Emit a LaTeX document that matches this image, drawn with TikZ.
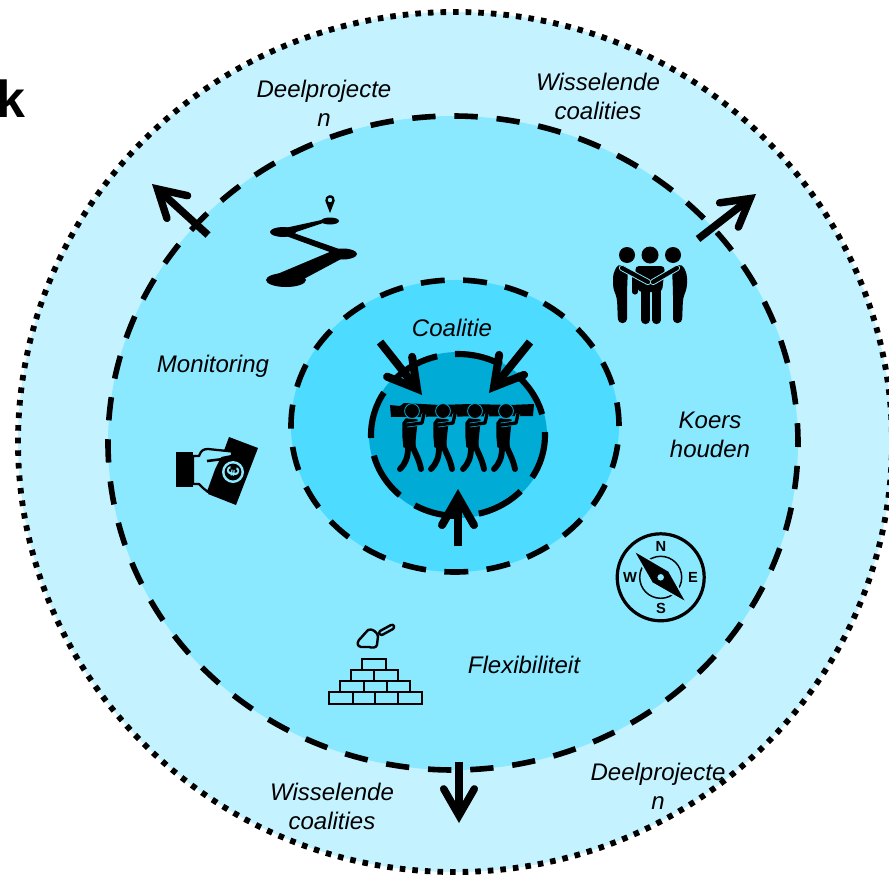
\documentclass[tikz,border=0pt]{standalone}
\usepackage{fontspec}
\setmainfont{Liberation Sans}
\usetikzlibrary{arrows.meta}
\definecolor{ringA}{HTML}{C4F3FF}
\definecolor{ringB}{HTML}{8AE8FF}
\definecolor{ringC}{HTML}{4DDBFF}
\definecolor{ringD}{HTML}{00ABD6}
\tikzset{
  tekst/.style={font=\itshape\fontsize{18}{21.75}\selectfont, align=center, inner sep=0pt},
  streep/.style={line width=4.2pt},
  pijl/.style={line width=5.6pt, -{Straight Barb[length=20pt, width=23pt, line cap=round, line join=miter]}},
  kernpijl/.style={line width=6pt, -{Straight Barb[length=21pt, width=24pt, line cap=round, line join=miter]}},
  icoon/.style={line width=1.8pt, line cap=round, line join=round},
  werker/.pic={
    \filldraw[line width=1pt, line join=round] (-9,12) -- (-6,8) -- (5,9) -- (3,29) -- (3,36) -- (-8,36) -- (-9,25) -- cycle;
    \draw[line width=4.4pt, line cap=round] (0,34) .. controls (3,42) and (7,48) .. (9,58);
    \draw[line width=4.4pt, line cap=round] (-4,36) .. controls (-4,46) and (-6,52) .. (-12,58);
    \draw[ringD, line width=3.6pt, line join=round] (-5,14) -- (10,12) -- (12,3);
    \draw[line width=2.5pt, line join=round] (-5,14) -- (10,12) -- (12,3);
    \filldraw[draw=ringD, line width=0.6pt] (0,0) circle (7.4);
  }
}
\begin{document}
\begin{tikzpicture}[x=0.75pt, y=-0.75pt]
\useasboundingbox (0,0) rectangle (889,878);
\clip (0,0) rectangle (889,878);

\coordinate (M1) at (455,442);
\coordinate (M2) at (453,443);
\coordinate (M3) at (455,426);
\coordinate (M4) at (458,435);

\fill[ringA] (M1) ellipse (437 and 430);
\fill[ringB] (M2) ellipse (345 and 327);
\fill[ringC] (M3) ellipse (164 and 146);
\fill[ringD] (M4) ellipse (89 and 83);

\draw[line width=4.4pt, dash pattern=on 4.2pt off 5.25pt] (M1) ellipse (437 and 430);
\draw[streep, dash pattern=on 17.5pt off 14.17pt, dash phase=14.5pt] (M2) ellipse (345 and 327);
\draw[streep, dash pattern=on 18pt off 13.8pt, dash phase=18pt] (M3) ellipse (164 and 146);
\draw[line width=4.6pt, dash pattern=on 36pt off 13.5pt, dash phase=2.25pt] (M4) ellipse (87 and 81);

% labels
\node[tekst] (deel1) at (324,103) {Deelprojecte\\n};
\node[tekst] (wissel1) at (598,96) {Wisselende\\coalities};
\node[tekst] (coalitie) at (452,328) {Coalitie};
\node[tekst] (monitoring) at (213,366) {Monitoring};
\node[tekst] (koers) at (710,435) {Koers\\houden};
\node[tekst] (flex) at (524,665) {Flexibiliteit};
\node[tekst] (wissel2) at (332,806) {Wisselende\\coalities};
\node[tekst] (deel2) at (658,786) {Deelprojecte\\n};
\node[font=\bfseries\fontsize{39}{39}\selectfont, anchor=base east, inner sep=0pt] (titel) at (26,117) {k};

% arrows
\coordinate (a1) at (208,235);
\coordinate (a2) at (152,184);
\coordinate (b1) at (698,239);
\coordinate (b2) at (756,194);
\coordinate (c1) at (459,762);
\coordinate (c2) at (459,823);
\coordinate (d1) at (380,342);
\coordinate (d2) at (422,395);
\coordinate (e1) at (530,342);
\coordinate (e2) at (489,393);
\coordinate (f1) at (458,546);
\coordinate (f2) at (458,489);
\foreach \s/\t in {a1/a2, b1/b2, c1/c2}{
  \draw[pijl] (\s) -- (\t);
}
\foreach \s/\t in {d1/d2, e1/e2, f1/f2}{
  \draw[kernpijl] (\s) -- (\t);
}

% workers
\fill (390,405) -- (400,406) -- (404,403) -- (440,405) -- (470,404) -- (510,405) -- (534,404) -- (533,416) -- (391,417) -- cycle;
\foreach \x in {412,443,475,506}{
  \pic at (\x,411) {werker};
}

% route
\fill (330,213) -- (325.3,200.8) arc[start angle=170, end angle=370, radius=4.8] -- cycle;
\fill[ringB] (330,200) circle (2.2);
\fill (330,221) ellipse (9 and 3.5);
\fill (283,232) ellipse (13 and 5);
\fill (343,254) ellipse (14 and 5.5);
\fill (286,280) ellipse (20 and 7);
\fill (285,228) -- (326,219) -- (326,222) -- (287,235) -- cycle;
\fill (288,231) -- (342,250) -- (338,255) -- (286,236) -- cycle;
\fill (332,251) -- (343,258) -- (300,281) -- (275,275) -- cycle;

% team
\foreach \x/\r in {627/8, 650/8.5, 673/8}{
  \fill (\x,255) circle (\r);
}
\fill[rounded corners=3pt] (635,266) -- (665,266) -- (662,292) -- (638,292) -- cycle;
\draw[line width=6.2pt, line cap=round] (645.5,285) -- (645.5,320);
\draw[line width=6.2pt, line cap=round] (656.5,285) -- (656.5,320);
\draw[line width=3.8pt, line cap=round] (635,278) -- (635,292);
\fill[rounded corners=3pt] (618,264) -- (628,267) -- (627,292) -- (627,323) -- (618,323) -- (617,298) -- (613,288) -- (613,274) -- cycle;
\fill[rounded corners=3pt] (682,264) -- (672,267) -- (673,292) -- (673,323) -- (682,323) -- (683,298) -- (687,288) -- (687,274) -- cycle;
\draw[ringB, line width=4.6pt, line cap=round] (622,268) -- (648,282);
\draw[ringB, line width=4.6pt, line cap=round] (677,268) -- (653,282);
\draw[line width=3.2pt, line cap=round] (622,268) -- (648,282);
\draw[line width=3.2pt, line cap=round] (677,268) -- (653,282);

% money
\fill (176,452) rectangle (193,487);
\fill (229,437) -- (258,448) -- (236,505) -- (208,494) -- cycle;
\filldraw[fill=ringB, line width=1.7pt, line join=round] (193,456) -- (199,456) .. controls (201,450) and (204,449) .. (208,449) -- (232,451.5) -- (232,456) -- (222,458) -- (216,470) -- (208,492) -- (203,488) -- (199,484) -- (193,484) -- cycle;
\draw[line width=1.9pt] (207,461) -- (223,459);
\fill[ringB] (233,472) circle (11);
\fill (233,472) circle (8.4);
\node[ringB, font=\bfseries\fontsize{13}{13}\selectfont, rotate=80, inner sep=0pt] (euro) at (233,472) {€};

% compass
\draw[line width=2.4pt] (660.7,577.3) circle (43.5);
\draw[line width=1.1pt] (660.7,577.3) circle (21);
\filldraw[draw=ringB, line width=1.2pt, line join=miter] (633,550) -- (669,571) -- (687,603) -- (652,583) -- cycle;
\filldraw[fill=ringB, line width=1.1pt] (660.7,577.3) circle (4.2);
\foreach \p/\l/\q in {661/546/N, 661/608/S, 693/577/E, 630/577/W}{
  \node[font=\bfseries\fontsize{11}{11}\selectfont, inner sep=0pt] (kompas\q) at (\p,\l) {\q};
}

% bricks
\draw[icoon, line cap=butt, line join=miter] (329,692) rectangle (422,704);
\draw[icoon, line cap=butt, line join=miter] (340,681) rectangle (410,692);
\draw[icoon, line cap=butt, line join=miter] (351,670) rectangle (398,681);
\draw[icoon, line cap=butt, line join=miter] (362,659) rectangle (386,670);
\foreach \x in {353,375,398}{
  \draw[icoon, line cap=butt] (\x,692) -- (\x,704);
}
\foreach \x in {364,387}{
  \draw[icoon, line cap=butt] (\x,681) -- (\x,692);
}
\draw[icoon, line cap=butt] (374,670) -- (374,681);
\draw[icoon] (368,630) .. controls (372,628) and (377,632) .. (378,636) -- (377,645) .. controls (376,648) and (372,648) .. (369,647) -- (361,647) .. controls (357,646) and (357,643) .. (359,640) -- cycle;
\draw[icoon] (380,631) -- (391,625) .. controls (394,624) and (395,627) .. (393,629) -- (382,635) .. controls (380,636) and (378,633) .. (380,631) -- cycle;
\end{tikzpicture}
\end{document}
